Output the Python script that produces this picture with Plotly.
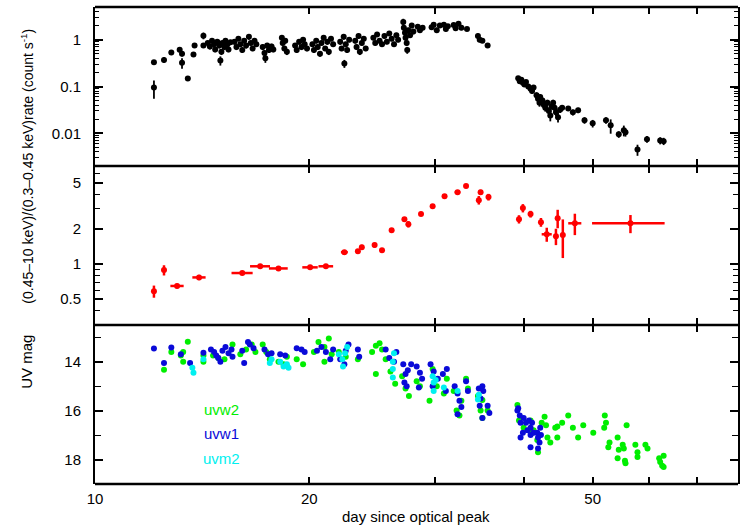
import math
import plotly.graph_objects as go
from plotly.subplots import make_subplots

# ---------------- top panel: X-ray count rate ----------------
xray_day = [12.1, 12.1, 12.5, 12.8, 13.15, 13.25, 13.25, 13.5, 13.75, 13.8, 14.2, 14.2,
            14.4, 14.5, 14.6, 14.7, 14.75, 14.85, 14.95, 15.0, 15.05, 15.1, 15.2, 15.25, 15.35, 15.4, 15.5,
            15.7, 15.8, 15.9, 16.0, 16.1, 16.2, 16.3, 16.45, 16.55, 16.65, 16.75, 16.85,
            17.2, 17.3, 17.35, 17.45, 17.55, 17.7, 17.8,
            18.3, 18.35, 18.45, 18.5, 18.6,
            19.1, 19.2, 19.35, 19.5, 19.6, 19.7, 19.85,
            20.2, 20.3, 20.45, 20.55, 20.7, 20.8, 20.95, 21.05, 21.2, 21.3, 21.45, 21.6,
            22.1, 22.2, 22.35, 22.4, 22.5, 22.6, 22.75,
            23.2, 23.3, 23.45, 23.55, 23.7, 23.85, 24.0,
            24.6, 24.75, 24.9, 25.1, 25.3, 25.5, 25.7, 25.9, 26.1, 26.3, 26.5, 26.65,
            27.1, 27.15, 27.25, 27.3, 27.4, 27.45, 27.55, 27.7, 27.85, 28.0,
            28.4, 28.6, 28.85,
            29.7, 29.9, 30.2, 30.5,
            30.9, 31.1, 31.3,
            31.9, 32.1, 32.4, 32.7, 33.3,
            34.5, 34.7, 35.0, 35.6,
            39.3, 39.5, 39.7, 39.9, 40.1, 40.3, 40.6, 40.9, 41.1, 41.3,
            41.7, 41.9, 42.1, 42.2, 42.5, 42.7, 42.9, 43.2, 43.4, 43.6, 43.8,
            44.0, 44.2, 44.4, 44.7, 45.0, 45.3, 46.2, 46.9, 47.7, 48.7, 50.0,
            52.2, 53.0, 54.4, 55.3, 55.6, 57.8, 59.6, 62.2, 62.9]
xray_rate = [0.095, 0.33, 0.37, 0.53, 0.61, 0.50, 0.32, 0.148, 0.48, 0.75, 1.22, 0.75,
             0.85, 0.72, 0.95, 0.8, 0.62, 0.9, 0.75, 0.36, 0.55, 0.85, 0.7, 0.95, 0.8, 0.62, 0.88,
             0.9, 0.7, 1.05, 0.8, 0.6, 0.95, 0.75, 1.15, 0.85, 0.65, 0.95, 0.8,
             0.7, 0.52, 0.4, 0.75, 0.6, 0.72, 0.62,
             1.1, 0.85, 0.65, 0.95, 0.55,
             0.75, 0.6, 0.9, 0.7, 1.0, 0.8, 0.65,
             0.8, 0.6, 0.95, 0.7, 0.5, 0.85, 1.1, 0.65, 0.9, 0.55, 1.05, 0.8,
             0.9, 0.65, 1.15, 0.31, 0.8, 0.6, 1.0,
             0.95, 0.7, 1.2, 0.55, 0.85, 1.05, 0.65,
             1.1, 0.85, 1.3, 0.95, 0.8, 1.2, 0.9, 1.35, 1.05, 0.8, 1.25, 1.0,
             2.4, 1.8, 1.4, 1.1, 0.85, 0.6, 1.6, 1.25, 2.0, 1.5,
             1.9, 1.6, 1.8,
             1.85, 2.1, 1.6, 2.0,
             2.1, 1.7, 1.95,
             2.05, 1.75, 2.2, 1.8, 1.7,
             1.2, 1.0, 0.95, 0.75,
             0.15, 0.13, 0.14, 0.12, 0.11, 0.125, 0.1, 0.09, 0.08, 0.095,
             0.065, 0.055, 0.045, 0.06, 0.05, 0.04, 0.035, 0.045, 0.03, 0.024, 0.038,
             0.045, 0.035, 0.028, 0.022, 0.032, 0.035, 0.034, 0.028, 0.031, 0.019, 0.0163,
             0.019, 0.0148, 0.0095, 0.0116, 0.0105, 0.0045, 0.0075, 0.007, 0.0068]
xray_err = [0.04, 0.03, 0.05, 0.06, 0.07, 0.06, 0.08, 0.015, 0.05, 0.07, 0.2, 0.08,
            0.1, 0.1, 0.12, 0.1, 0.08, 0.12, 0.1, 0.08, 0.08, 0.1, 0.1, 0.12, 0.1, 0.08, 0.1,
            0.12, 0.1, 0.12, 0.1, 0.08, 0.12, 0.1, 0.15, 0.1, 0.08, 0.12, 0.1,
            0.1, 0.08, 0.08, 0.1, 0.08, 0.1, 0.08,
            0.15, 0.1, 0.08, 0.12, 0.08,
            0.1, 0.08, 0.12, 0.1, 0.12, 0.1, 0.08,
            0.1, 0.08, 0.12, 0.1, 0.07, 0.1, 0.15, 0.08, 0.12, 0.08, 0.12, 0.1,
            0.12, 0.08, 0.15, 0.06, 0.1, 0.08, 0.12,
            0.12, 0.1, 0.15, 0.08, 0.1, 0.12, 0.08,
            0.12, 0.1, 0.15, 0.12, 0.1, 0.15, 0.1, 0.15, 0.12, 0.1, 0.15, 0.12,
            0.4, 0.25, 0.2, 0.15, 0.12, 0.1, 0.2, 0.15, 0.25, 0.2,
            0.2, 0.2, 0.2,
            0.2, 0.25, 0.2, 0.2,
            0.25, 0.2, 0.2,
            0.2, 0.2, 0.25, 0.2, 0.15,
            0.15, 0.12, 0.1, 0.08,
            0.015, 0.015, 0.015, 0.012, 0.012, 0.012, 0.01, 0.01, 0.01, 0.01,
            0.01, 0.008, 0.008, 0.008, 0.008, 0.007, 0.006, 0.007, 0.006, 0.006, 0.006,
            0.007, 0.006, 0.005, 0.005, 0.005, 0.005, 0.004, 0.004, 0.004, 0.003, 0.003,
            0.003, 0.005, 0.0015, 0.003, 0.002, 0.0012, 0.0012, 0.0012, 0.0012]

# ---------------- middle panel: hardness ratio ----------------
hr_day = [12.1, 12.5, 13.04, 14.0, 16.1, 17.06, 18.1, 20.05, 21.1, 22.4, 23.4, 23.7, 24.7, 25.3,
          26.1, 27.2, 27.55, 28.7, 29.8, 30.97, 32.3, 33.2, 34.6, 34.8, 35.7, 39.4, 39.9, 40.9,
          42.3, 43.1, 44.4, 44.65, 45.4, 47.2, 56.5]
hr_val = [0.585, 0.89, 0.65, 0.77, 0.84, 0.96, 0.92, 0.94, 0.96, 1.27, 1.29, 1.40, 1.46, 1.32,
          1.96, 2.44, 2.21, 2.70, 3.16, 3.85, 4.17, 4.7, 3.56, 4.17, 3.78, 2.44, 3.04, 2.7,
          2.30, 1.81, 1.74, 2.49, 1.78, 2.25, 2.25]
hr_err_y = [0.07, 0.09, 0.03, 0.04, 0.03, 0.03, 0.03, 0.03, 0.03, 0.05, 0.06, 0.07, 0.07, 0.06,
            0.08, 0.1, 0.14, 0.1, 0.12, 0.14, 0.15, 0.2, 0.3, 0.2, 0.25, 0.2, 0.25, 0.18,
            0.2, 0.25, 0.28, 0.45, 0.65, 0.47, 0.4]
hr_err_x = [0.05, 0.05, 0.28, 0.3, 0.55, 0.55, 0.55, 0.5, 0.5, 0.25, 0.1, 0.1, 0.15, 0.1,
            0.2, 0.2, 0.1, 0.1, 0.2, 0.25, 0.3, 0.1, 0.1, 0.15, 0.1, 0.1, 0.1, 0.2,
            0.2, 0.7, 0.1, 0.1, 0.1, 1.0, 6.6]

# ---------------- bottom panel: UV magnitudes ----------------
uvw2_day = [12.5, 12.8, 13.2, 13.3, 13.3, 13.5, 14.2, 14.2, 14.65, 14.9, 15.2, 15.6, 16.0, 16.3,
            16.6, 16.8, 17.2, 17.4, 17.6, 18.1, 18.4, 18.6, 19.2, 19.6, 20.3, 20.6, 21.0, 21.3,
            21.5, 21.0, 22.0, 22.5, 23.4, 24.5, 24.8, 25.1, 25.3, 24.8, 25.6, 26.0, 26.4, 27.0,
            27.3, 27.6, 28.3, 28.6, 29.5, 29.8, 30.2, 30.9, 31.2, 31.9, 32.2, 32.5, 32.7, 33.2,
            33.4, 34.5, 34.8, 35.0, 35.6, 35.0, 39.2, 39.4, 40.0, 40.9, 41.1, 41.8, 41.9, 41.3,
            42.4, 42.8, 43.0, 43.2, 43.6, 44.3, 44.6, 44.6, 45.3, 46.2, 46.9, 47.7, 48.5, 50.1,
            52.0, 52.2, 51.9, 52.6, 52.8, 54.2, 54.4, 54.2, 55.1, 55.3, 55.5, 55.6, 55.8, 57.4,
            57.8, 57.8, 59.3, 59.7, 62.0, 62.2, 62.6, 62.9, 62.9]
uvw2_mag = [14.33, 13.6, 13.75, 14.0, 13.6, 13.18, 14.0, 13.75, 13.75, 13.85, 13.9, 13.3, 13.7, 13.5,
            13.3, 13.6, 13.3, 13.6, 13.9, 14.0, 14.1, 13.8, 13.9, 14.1, 13.6, 13.2, 13.4, 13.05,
            13.7, 14.0, 13.6, 13.8, 13.9, 13.6, 13.35, 13.25, 13.5, 14.5, 13.9, 14.4, 14.9, 14.6,
            15.1, 15.4, 14.8, 15.0, 15.6, 14.3, 15.0, 15.3, 14.7, 15.2, 16.0, 16.2, 15.6, 14.7,
            15.1, 15.4, 16.0, 16.3, 16.0, 15.57, 15.77, 16.4, 16.7, 16.4, 16.9, 17.2, 17.7, 16.8,
            16.5, 16.25, 16.6, 17.1, 17.3, 16.7, 16.65, 17.1, 16.5, 16.2, 16.7, 17.1, 16.6, 16.9,
            16.2, 16.5, 16.7, 17.5, 17.3, 17.1, 17.6, 17.95, 17.4, 17.55, 18.05, 18.15, 16.6, 17.4,
            17.7, 17.9, 17.4, 17.55, 17.95, 18.1, 18.25, 17.85, 18.3]

uvw1_day = [12.1, 12.5, 12.8, 13.2, 13.6, 14.2, 14.55, 14.7, 14.8, 14.9, 15.0, 15.1, 15.25, 15.4,
            15.55, 15.6, 16.1, 16.2, 16.4, 16.5, 16.7, 17.3, 17.5, 17.7, 18.2, 18.5, 19.2, 19.5,
            19.7, 20.5, 20.8, 21.1, 21.4, 21.6, 22.1, 22.5, 22.7, 22.4, 23.4, 23.5, 25.6, 25.9,
            26.3, 26.5, 27.1, 27.3, 27.5, 27.8, 27.2, 27.4, 28.3, 28.6, 28.8, 28.5, 29.6, 29.9,
            30.3, 29.8, 30.8, 31.2, 31.1, 32.0, 32.3, 32.5, 32.7, 32.3, 33.2, 33.4, 34.6, 34.8,
            35.0, 34.7, 35.6, 35.8, 35.0, 35.1, 39.2, 39.3, 39.5, 39.6, 39.6, 39.9, 40.0, 40.3,
            40.5, 40.7, 40.9, 40.9, 40.9, 41.1, 41.3, 41.8, 41.9, 42.1, 42.2, 42.3, 41.9]
uvw1_mag = [13.46, 14.05, 13.42, 13.7, 14.05, 13.63, 13.5, 13.6, 13.75, 13.85, 14.0, 13.55, 13.4, 13.65,
            13.5, 13.8, 13.55, 14.05, 13.2, 13.3, 13.45, 13.5, 13.7, 13.65, 13.7, 13.75, 13.45, 13.5,
            13.6, 13.55, 13.4, 13.6, 13.9, 13.5, 13.9, 13.55, 13.3, 14.1, 13.5, 13.8, 13.5, 13.85,
            14.0, 13.6, 14.1, 14.5, 14.35, 14.1, 14.85, 15.0, 14.2, 14.45, 14.7, 15.05, 14.1, 14.4,
            14.7, 15.0, 14.5, 14.3, 15.2, 15.0, 15.3, 15.6, 15.85, 16.15, 14.8, 15.2, 15.1, 15.5,
            16.3, 15.8, 15.8, 16.1, 15.0, 15.2, 16.0, 15.9, 16.2, 16.5, 17.1, 16.9, 16.3, 16.5,
            16.8, 16.4, 16.7, 17.0, 17.5, 16.5, 16.9, 16.9, 17.1, 17.3, 16.7, 17.0, 17.55]

uvm2_day = [13.7, 13.75, 14.2, 17.6, 17.7, 18.2, 18.4, 18.6, 18.7, 22.0, 22.25, 22.3, 22.45, 22.6,
            26.2, 26.2, 26.2, 26.3, 29.8, 29.9, 29.9, 30.1, 30.9, 32.3, 34.5, 34.6]
uvm2_mag = [14.25, 14.45, 13.9, 14.05, 13.9, 14.0, 14.2, 14.1, 14.25, 13.7, 13.9, 14.2, 13.65, 13.4,
            14.0, 14.3, 14.65, 13.65, 14.6, 14.85, 15.2, 14.75, 15.05, 15.2, 15.55, 15.35]

x_label_vals = [10, 20, 50]
x_label_text = ["10", "20", "50"]
x_other_ticks = [30, 40, 60, 70]

FONT = "Liberation Sans, Arial, sans-serif"
GREEN = "#00ee00"
BLUE = "#0a0ad8"
CYAN = "#00f0f0"
RED = "#ff0000"

fig = make_subplots(rows=3, cols=1, shared_xaxes=True, vertical_spacing=0)

fig.add_trace(go.Scatter(
    x=xray_day, y=xray_rate, mode="markers",
    marker=dict(color="black", size=6),
    error_y=dict(type="data", array=xray_err, thickness=1.8, width=0, color="black"),
    showlegend=False), row=1, col=1)

fig.add_trace(go.Scatter(
    x=hr_day, y=hr_val, mode="markers",
    marker=dict(color=RED, size=6),
    error_y=dict(type="data", array=hr_err_y, thickness=2.5, width=0, color=RED),
    error_x=dict(type="data", array=hr_err_x, thickness=2.5, width=0, color=RED),
    showlegend=False), row=2, col=1)

for d, m, c in [(uvw2_day, uvw2_mag, GREEN), (uvw1_day, uvw1_mag, BLUE), (uvm2_day, uvm2_mag, CYAN)]:
    fig.add_trace(go.Scatter(x=d, y=m, mode="markers",
                             marker=dict(color=c, size=6), showlegend=False), row=3, col=1)

xcommon = dict(type="log", range=[1, math.log10(80)], tickmode="array",
               tickvals=x_label_vals, ticktext=x_label_text,
               ticks="inside", ticklen=7, tickwidth=1.5, tickcolor="black",
               minor=dict(tickmode="array", tickvals=x_other_ticks, ticks="inside", ticklen=7,
                          tickwidth=1.5, tickcolor="black"),
               showline=False, mirror="ticks",
               showgrid=False, zeroline=False,
               tickfont=dict(family=FONT, size=15, color="black"), ticklabelstandoff=4)
for i in (1, 2, 3):
    fig.update_xaxes(**xcommon, row=i, col=1)
fig.update_xaxes(showticklabels=False, row=1, col=1)
fig.update_xaxes(showticklabels=False, row=2, col=1)
fig.update_xaxes(showticklabels=True, row=3, col=1)

ycommon = dict(ticks="inside", ticklen=8, tickwidth=1.5, tickcolor="black",
               showline=True, linewidth=2, linecolor="black", mirror="ticks",
               showgrid=False, zeroline=False,
               tickfont=dict(family=FONT, size=15, color="black"), ticklabelstandoff=9)

top_minor = [0.002, 0.003, 0.004, 0.005, 0.006, 0.007, 0.008, 0.009,
             0.02, 0.03, 0.04, 0.05, 0.06, 0.07, 0.08, 0.09,
             0.2, 0.3, 0.4, 0.5, 0.6, 0.7, 0.8, 0.9, 2, 3, 4, 5]
fig.update_yaxes(**ycommon, type="log", range=[math.log10(0.002), math.log10(5)],
                 tickmode="array", tickvals=[0.01, 0.1, 1], ticktext=["0.01", "0.1", "1"],
                 minor=dict(tickmode="array", tickvals=top_minor, ticks="inside", ticklen=4,
                            tickwidth=1.2, tickcolor="black"),
                 row=1, col=1)

mid_minor = [0.3, 0.4, 0.6, 0.7, 0.8, 0.9, 3, 4, 6, 7]
fig.update_yaxes(**ycommon, type="log", range=[math.log10(0.3), math.log10(7)],
                 tickmode="array", tickvals=[0.5, 1, 2, 5], ticktext=["0.5", "1", "2", "5"],
                 minor=dict(tickmode="array", tickvals=mid_minor, ticks="inside", ticklen=5,
                            tickwidth=1.2, tickcolor="black"),
                 row=2, col=1)

fig.update_yaxes(**ycommon, range=[19, 12.5],
                 tickmode="array", tickvals=[14, 16, 18], ticktext=["14", "16", "18"],
                 minor=dict(tickmode="array", tickvals=[13, 15, 17], ticks="inside", ticklen=6,
                            tickwidth=1.2, tickcolor="black"),
                 row=3, col=1)

# horizontal frame lines (outer top/bottom and the two panel boundaries)
shapes = []
for yy in (0, 1 / 3, 2 / 3, 1):
    shapes.append(dict(type="line", xref="paper", yref="paper", x0=0, x1=1, y0=yy, y1=yy,
                       line=dict(color="black", width=2.5), layer="above"))

ann = []
for txt, yy, col in [("uvw2", 0.157, GREEN), ("uvw1", 0.105, BLUE), ("uvm2", 0.0545, CYAN)]:
    ann.append(dict(text=txt, xref="paper", yref="paper", x=0.196, y=yy,
                    showarrow=False, font=dict(family=FONT, size=15, color=col),
                    xanchor="center", yanchor="middle"))
ann.append(dict(text="UV mag", xref="paper", yref="paper", x=-0.106, y=0.256,
                textangle=-90, showarrow=False, xanchor="center", yanchor="middle",
                font=dict(family=FONT, size=15, color="black")))
ann.append(dict(text="(0.45\u201310 keV)/(0.3\u20130.45 keV)rate (count s<sup>-1</sup>)",
                xref="paper", yref="paper", x=-0.106, y=0.667,
                textangle=-90, showarrow=False, xanchor="center", yanchor="middle",
                font=dict(family=FONT, size=14, color="black")))
ann.append(dict(text="day since optical peak", xref="paper", yref="paper", x=0.499, y=-0.069,
                showarrow=False, xanchor="center", yanchor="middle",
                font=dict(family=FONT, size=15, color="black")))

fig.update_layout(width=746, height=527, margin=dict(l=95, r=8, t=7, b=43),
                  paper_bgcolor="white", plot_bgcolor="white", annotations=ann, shapes=shapes,
                  font=dict(family=FONT, color="black"))

fig.write_html("out.html", config={"displayModeBar": False},
               post_script="document.body.style.margin='0';document.body.style.padding='0';")
